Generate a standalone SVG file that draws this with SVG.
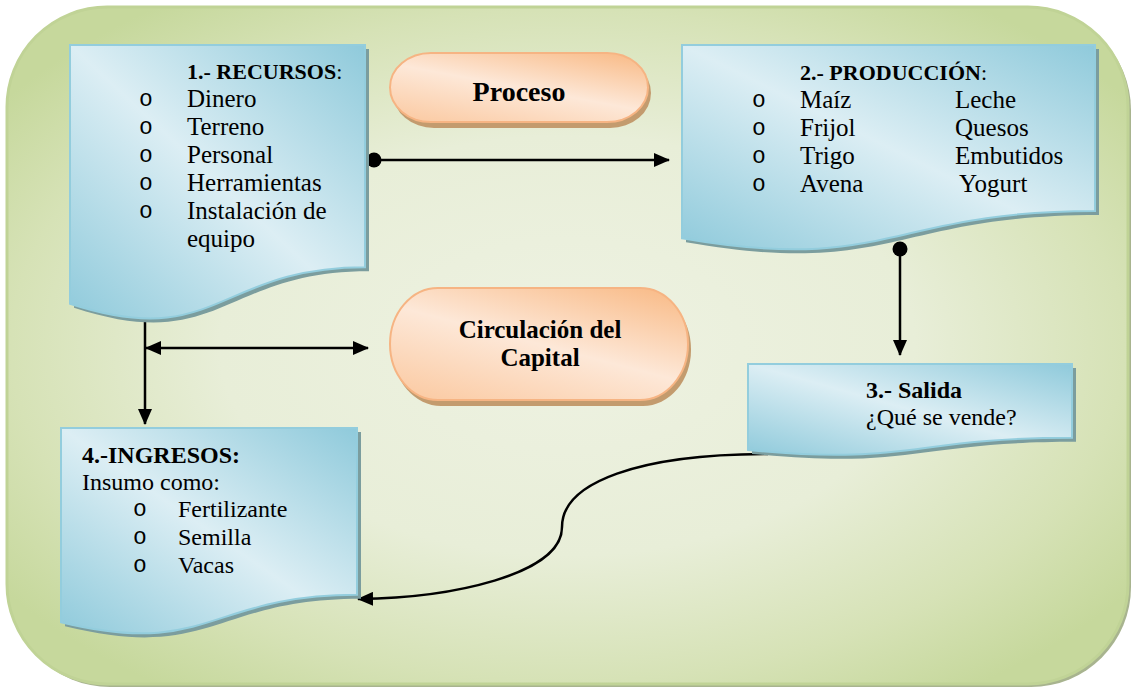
<svg xmlns="http://www.w3.org/2000/svg" width="1131" height="692" viewBox="0 0 1131 692">
<defs>
<style>
.doc{fill:url(#gBlue);stroke:#93cddd;stroke-width:2}
.docsh{fill:#7b9d9e}
.pill{fill:url(#gOrange);stroke:#f6b483;stroke-width:2}
.pillsh{fill:#c39b6e}
.cn{fill:none;stroke:#000;stroke-width:2.5}
.t{font-family:"Liberation Serif","Times New Roman",serif;fill:#000}
.b{font-weight:bold}
.bul{font-family:"Liberation Mono","Courier New",monospace;font-size:23px;fill:#000}
</style>
<radialGradient id="gBg" cx="0.5" cy="0.5" r="0.62">
<stop offset="0" stop-color="#eef2e2"/>
<stop offset="0.5" stop-color="#e8eed8"/>
<stop offset="0.8" stop-color="#d6e2b6"/>
<stop offset="1" stop-color="#c6d89c"/>
</radialGradient>
<linearGradient id="gBlue" x1="0" y1="1" x2="1" y2="0">
<stop offset="0" stop-color="#8fcadb"/>
<stop offset="0.5" stop-color="#dceef4"/>
<stop offset="1" stop-color="#8fcadb"/>
</linearGradient>
<linearGradient id="gOrange" x1="0.15" y1="1" x2="0.85" y2="0">
<stop offset="0" stop-color="#fbcca6"/>
<stop offset="0.5" stop-color="#fde8d8"/>
<stop offset="1" stop-color="#f9be8d"/>
</linearGradient>
<marker id="arr" viewBox="0 0 16 14" refX="15" refY="7" markerWidth="16" markerHeight="14" markerUnits="userSpaceOnUse" orient="auto-start-reverse">
<path d="M0,0 L16,7 L0,14 Z" fill="#000"/>
</marker>
<marker id="dot" viewBox="0 0 16 16" refX="8" refY="8" markerWidth="16" markerHeight="16" markerUnits="userSpaceOnUse">
<circle cx="8" cy="8" r="7.5" fill="#000"/>
</marker>
</defs>

<g id="background">
<rect x="10" y="10" width="1121" height="677" rx="100" ry="100" fill="#a8b48f"/>
<rect x="7" y="7" width="1121" height="677" rx="100" ry="100" fill="url(#gBg)" stroke="#c0d396" stroke-width="3"/>
</g>

<g id="connectors">
<line class="cn" x1="374" y1="160" x2="669" y2="160" marker-start="url(#dot)" marker-end="url(#arr)"/>
<line class="cn" x1="900" y1="249" x2="900" y2="355" marker-start="url(#dot)" marker-end="url(#arr)"/>
<line class="cn" x1="145" y1="318" x2="145" y2="424" marker-end="url(#arr)"/>
<line class="cn" x1="146" y1="348" x2="368" y2="348" marker-start="url(#arr)" marker-end="url(#arr)"/>
<path class="cn" d="M768,454 C640,454 562,482 562,527 C562,575 450,598 358,599" marker-end="url(#arr)"/>
</g>

<g id="node-recursos">
<path class="docsh" d="M74,49 H369 V271.2 C221.5,271.2 221.5,355.8 74,307.7 Z"/>
<path class="doc" d="M70,45 H365 V267.2 C217.5,267.2 217.5,351.8 70,303.7 Z"/>
<text class="t" x="187" y="79" font-size="22"><tspan class="b">1.- RECURSOS</tspan>:</text>
<text class="bul" x="139" y="106">o</text><text class="t" x="187" y="107" font-size="25">Dinero</text>
<text class="bul" x="139" y="134">o</text><text class="t" x="187" y="135" font-size="25">Terreno</text>
<text class="bul" x="139" y="162">o</text><text class="t" x="187" y="163" font-size="25">Personal</text>
<text class="bul" x="139" y="190">o</text><text class="t" x="187" y="191" font-size="25">Herramientas</text>
<text class="bul" x="139" y="218">o</text><text class="t" x="187" y="219" font-size="25">Instalación de</text>
<text class="t" x="187" y="247" font-size="25">equipo</text>
</g>

<g id="node-proceso">
<rect class="pillsh" x="393" y="58" width="258" height="70" rx="41" ry="35"/>
<rect class="pill" x="390" y="53" width="258" height="69" rx="41" ry="34.5"/>
<text class="t b" x="519" y="101" font-size="28" text-anchor="middle">Proceso</text>
</g>

<g id="node-produccion">
<path class="docsh" d="M686,49 H1099 V215 C892.5,215 892.5,278.3 686,242.3 Z"/>
<path class="doc" d="M682,45 H1095 V211 C888.5,211 888.5,274.3 682,238.3 Z"/>
<text class="t" x="800" y="80" font-size="22"><tspan class="b">2.- PRODUCCIÓN</tspan>:</text>
<text class="bul" x="752" y="107">o</text><text class="t" x="800" y="108" font-size="25">Maíz</text><text class="t" x="955" y="108" font-size="25">Leche</text>
<text class="bul" x="752" y="135">o</text><text class="t" x="800" y="136" font-size="25">Frijol</text><text class="t" x="955" y="136" font-size="25">Quesos</text>
<text class="bul" x="752" y="163">o</text><text class="t" x="800" y="164" font-size="25">Trigo</text><text class="t" x="955" y="164" font-size="25">Embutidos</text>
<text class="bul" x="752" y="191">o</text><text class="t" x="800" y="192" font-size="25">Avena</text><text class="t" x="959" y="192" font-size="25">Yogurt</text>
</g>

<g id="node-circulacion">
<rect class="pillsh" x="393" y="293" width="298" height="113" rx="48" ry="56"/>
<rect class="pill" x="390" y="288" width="298" height="112" rx="48" ry="56"/>
<text class="t b" x="540" y="338" font-size="25" text-anchor="middle">Circulación del</text>
<text class="t b" x="540" y="366" font-size="25" text-anchor="middle">Capital</text>
</g>

<g id="node-salida">
<path class="docsh" d="M752,368 H1076 V441.8 C914,441.8 914,469.9 752,453.9 Z"/>
<path class="doc" d="M748,364 H1072 V437.8 C910,437.8 910,465.9 748,449.9 Z"/>
<text class="t b" x="866" y="398" font-size="24">3.- Salida</text>
<text class="t" x="866" y="425" font-size="24">¿Qué se vende?</text>
</g>

<g id="node-ingresos">
<path class="docsh" d="M65,432 H361 V598.8 C213,598.8 213,662.4 65,626.3 Z"/>
<path class="doc" d="M61,428 H357 V594.8 C209,594.8 209,658.4 61,622.3 Z"/>
<text class="t b" x="82" y="463" font-size="24">4.-INGRESOS:</text>
<text class="t" x="82" y="490" font-size="24">Insumo como:</text>
<text class="bul" x="133" y="516">o</text><text class="t" x="178" y="517" font-size="24">Fertilizante</text>
<text class="bul" x="133" y="544">o</text><text class="t" x="178" y="545" font-size="24">Semilla</text>
<text class="bul" x="133" y="572">o</text><text class="t" x="178" y="573" font-size="24">Vacas</text>
</g>
</svg>
